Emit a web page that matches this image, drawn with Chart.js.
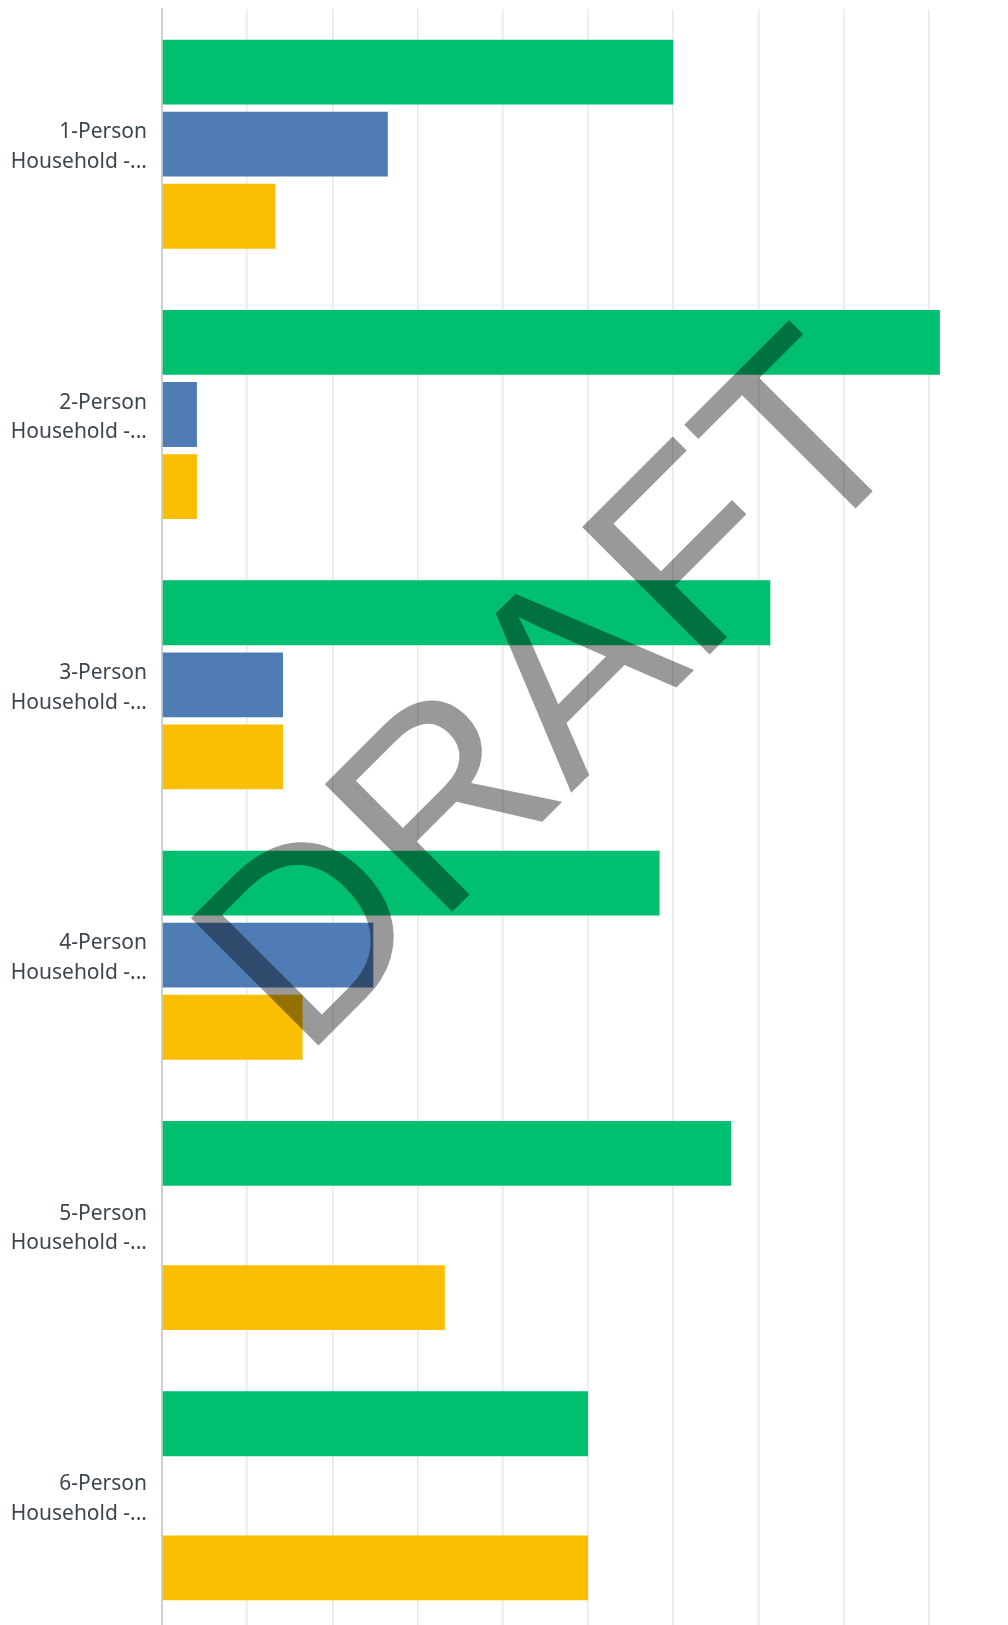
<!DOCTYPE html>
<html>
<head>
<meta charset="utf-8">
<script src="https://cdn.jsdelivr.net/npm/chart.js@4"></script>
<style>
    html, body { margin: 0; padding: 0; background: #fff; overflow: hidden; }
    /* chart is a bit larger than the window: the x ticks sit below the visible area */
    #wrap { position: absolute; left: 0; top: 0; width: 1014px; height: 1631px; }
</style>
</head>
<body>
<div id="wrap"><canvas id="chartHogares"></canvas></div>

<script>
const categorias = [
    ["1-Person", "Household -..."],
    ["2-Person", "Household -..."],
    ["3-Person", "Household -..."],
    ["4-Person", "Household -..."],
    ["5-Person", "Household -..."],
    ["6-Person", "Household -..."]
];

const serieVerde = [60, 91.3, 71.4, 58.4, 66.8, 50];
const serieAzul = [26.5, 4.1, 14.2, 24.8, null, null];
const serieAmarilla = [13.3, 4.1, 14.2, 16.5, 33.2, 50];

const ejeMin = 0;
const ejeMax = 100;
const ejePaso = 10;

// watermark drawn over the bars
const marcaAgua = {
    id: "marcaAgua",
    afterDraw(chart) {
        const ctx = chart.ctx;
        ctx.save();
        ctx.translate(612, 752);
        ctx.rotate(-Math.PI / 4);
        ctx.font = '262px "Liberation Sans", Arial, sans-serif';
        ctx.fillStyle = "rgba(0, 0, 0, 0.4)";
        ctx.textAlign = "center";
        ctx.textBaseline = "alphabetic";
        ctx.fillText("DRAFT", 0, 0);
        ctx.restore();
    }
};

const ctx = document.getElementById("chartHogares").getContext("2d");

new Chart(ctx, {
    type: "bar",
    data: {
        labels: categorias,
        datasets: [
            { label: "Serie 1", data: serieVerde, backgroundColor: "#00bf6f" },
            { label: "Serie 2", data: serieAzul, backgroundColor: "#507cb6" },
            { label: "Serie 3", data: serieAmarilla, backgroundColor: "#f9be00" }
        ]
    },
    options: {
        indexAxis: "y",
        responsive: true,
        maintainAspectRatio: false,
        animation: false,
        layout: { padding: { top: 9, left: 0, right: 0, bottom: 0 } },
        plugins: {
            legend: { display: false },
            tooltip: { enabled: false }
        },
        scales: {
            x: {
                min: ejeMin,
                max: ejeMax,
                ticks: { display: false, stepSize: ejePaso },
                grid: { color: "#e8e8e8", lineWidth: 1.5, drawTicks: false },
                border: { display: false }
            },
            y: {
                grid: { display: false, drawTicks: false },
                border: { display: true, color: "#cfcfcf", width: 2 },
                ticks: {
                    color: "#3d4550",
                    padding: 15,
                    labelOffset: 3,
                    font: { family: '"Noto Sans", sans-serif', size: 21, lineHeight: 1.4 }
                },
                afterFit(scale) {
                    scale.width = 162;
                    // labels sit inside their bands, no extra room needed above/below
                    scale.paddingTop = 0;
                    scale.paddingBottom = 0;
                }
            }
        }
    },
    plugins: [marcaAgua]
});
</script>
</body>
</html>
